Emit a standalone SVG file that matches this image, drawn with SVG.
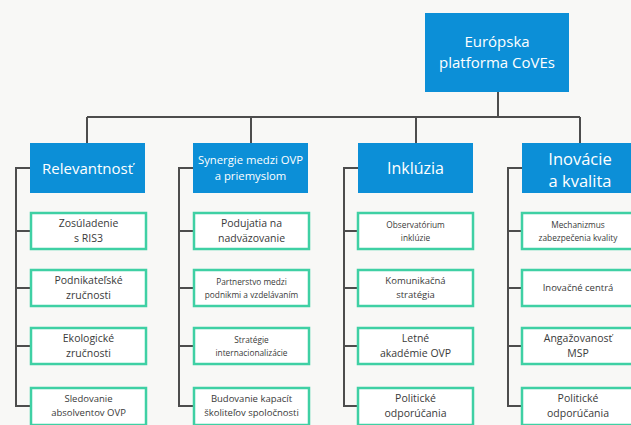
<svg xmlns="http://www.w3.org/2000/svg" width="631" height="425" viewBox="0 0 631 425">
<style>
.bg{fill:#f8f8f6}
.hdr{fill:#0c8fd7}
.sub{fill:#ffffff;stroke:#3fd0a4;stroke-width:2.5}
.ln{fill:none;stroke:#4d4d4d;stroke-width:2}
text{font-family:"Open Sans","Noto Sans","Liberation Sans",sans-serif;text-anchor:middle}
.ht{fill:#ffffff}
.st{fill:#3a3a3a;font-size:10.5px}
.md{fill:#3a3a3a;font-size:9.5px}
.sm{fill:#3a3a3a;font-size:8.3px}
</style>
<rect class="bg" x="0" y="0" width="631" height="425"/>
<g id="connectors">
<path class="ln" d="M498 92V117M87 117H580M87 117V143M251 117V143M416 117V143M580 117V143"/>
<path class="ln" d="M30 168H16V406H30M16 231H30M16 288H30M16 346H30"/>
<path class="ln" d="M194 168H179V406H194M179 231H194M179 288H194M179 346H194"/>
<path class="ln" d="M358 168H344V406H358M344 231H358M344 288H358M344 346H358"/>
<path class="ln" d="M522 168H508V406H522M508 231H522M508 288H522M508 346H522"/>
</g>
<g id="root">
<rect class="hdr" x="425" y="13" width="144" height="79"/>
<text class="ht" x="497" y="47" font-size="15">Európska</text>
<text class="ht" x="497" y="68" font-size="15">platforma CoVEs</text>
</g>
<g id="relevantnost">
<rect class="hdr" x="30" y="143" width="115" height="50"/>
<text class="ht" x="87.5" y="174" font-size="15">Relevantnosť</text>
</g>
<g id="synergie">
<rect class="hdr" x="193" y="143" width="115" height="50"/>
<text class="ht" x="250.5" y="164" font-size="11.3">Synergie medzi OVP</text>
<text class="ht" x="250.5" y="180" font-size="11.3">a priemyslom</text>
</g>
<g id="inkluzia">
<rect class="hdr" x="358" y="143" width="115" height="50"/>
<text class="ht" x="415.5" y="174" font-size="16">Inklúzia</text>
</g>
<g id="inovacie">
<rect class="hdr" x="522" y="143" width="115" height="50"/>
<text class="ht" x="580" y="165" font-size="16.5">Inovácie</text>
<text class="ht" x="580" y="187" font-size="16.5">a kvalita</text>
</g>
<g id="c1n1"><rect class="sub" x="31" y="213" width="115" height="36"/><text class="st" x="88.5" y="227">Zosúladenie</text><text class="st" x="88.5" y="242">s RIS3</text></g>
<g id="c1n2"><rect class="sub" x="31" y="270" width="115" height="36"/><text class="st" x="88.5" y="284">Podnikateľské</text><text class="st" x="88.5" y="299">zručnosti</text></g>
<g id="c1n3"><rect class="sub" x="31" y="328" width="115" height="36"/><text class="st" x="88.5" y="342">Ekologické</text><text class="st" x="88.5" y="357">zručnosti</text></g>
<g id="c1n4"><rect class="sub" x="31" y="388" width="115" height="37"/><text class="md" x="88.5" y="402">Sledovanie</text><text class="md" x="88.5" y="416">absolventov OVP</text></g>
<g id="c2n1"><rect class="sub" x="194" y="213" width="115" height="36"/><text class="st" x="251.5" y="227">Podujatia na</text><text class="st" x="251.5" y="242">nadväzovanie</text></g>
<g id="c2n2"><rect class="sub" x="194" y="270" width="115" height="36"/><text class="sm" x="251.5" y="285">Partnerstvo medzi</text><text class="sm" x="251.5" y="298">podnikmi a vzdelávaním</text></g>
<g id="c2n3"><rect class="sub" x="194" y="328" width="115" height="36"/><text class="sm" x="251.5" y="343">Stratégie</text><text class="sm" x="251.5" y="356">internacionalizácie</text></g>
<g id="c2n4"><rect class="sub" x="194" y="388" width="115" height="37"/><text class="md" x="251.5" y="402">Budovanie kapacít</text><text class="md" x="251.5" y="416">školiteľov spoločnosti</text></g>
<g id="c3n1"><rect class="sub" x="358" y="213" width="115" height="36"/><text class="sm" x="415.5" y="228">Observatórium</text><text class="sm" x="415.5" y="241">inklúzie</text></g>
<g id="c3n2"><rect class="sub" x="358" y="270" width="115" height="36"/><text class="md" x="415.5" y="284">Komunikačná</text><text class="md" x="415.5" y="298">stratégia</text></g>
<g id="c3n3"><rect class="sub" x="358" y="328" width="115" height="36"/><text class="st" x="415.5" y="342">Letné</text><text class="st" x="415.5" y="357">akadémie OVP</text></g>
<g id="c3n4"><rect class="sub" x="358" y="388" width="115" height="37"/><text class="st" x="415.5" y="402">Politické</text><text class="st" x="415.5" y="417">odporúčania</text></g>
<g id="c4n1"><rect class="sub" x="522" y="213" width="115" height="36"/><text class="sm" x="578" y="228">Mechanizmus</text><text class="sm" x="578" y="241">zabezpečenia kvality</text></g>
<g id="c4n2"><rect class="sub" x="522" y="270" width="115" height="36"/><text class="md" x="578" y="291">Inovačné centrá</text></g>
<g id="c4n3"><rect class="sub" x="522" y="328" width="115" height="36"/><text class="st" x="578" y="342">Angažovanosť</text><text class="st" x="578" y="357">MSP</text></g>
<g id="c4n4"><rect class="sub" x="522" y="388" width="115" height="37"/><text class="st" x="578" y="402">Politické</text><text class="st" x="578" y="417">odporúčania</text></g>
</svg>
